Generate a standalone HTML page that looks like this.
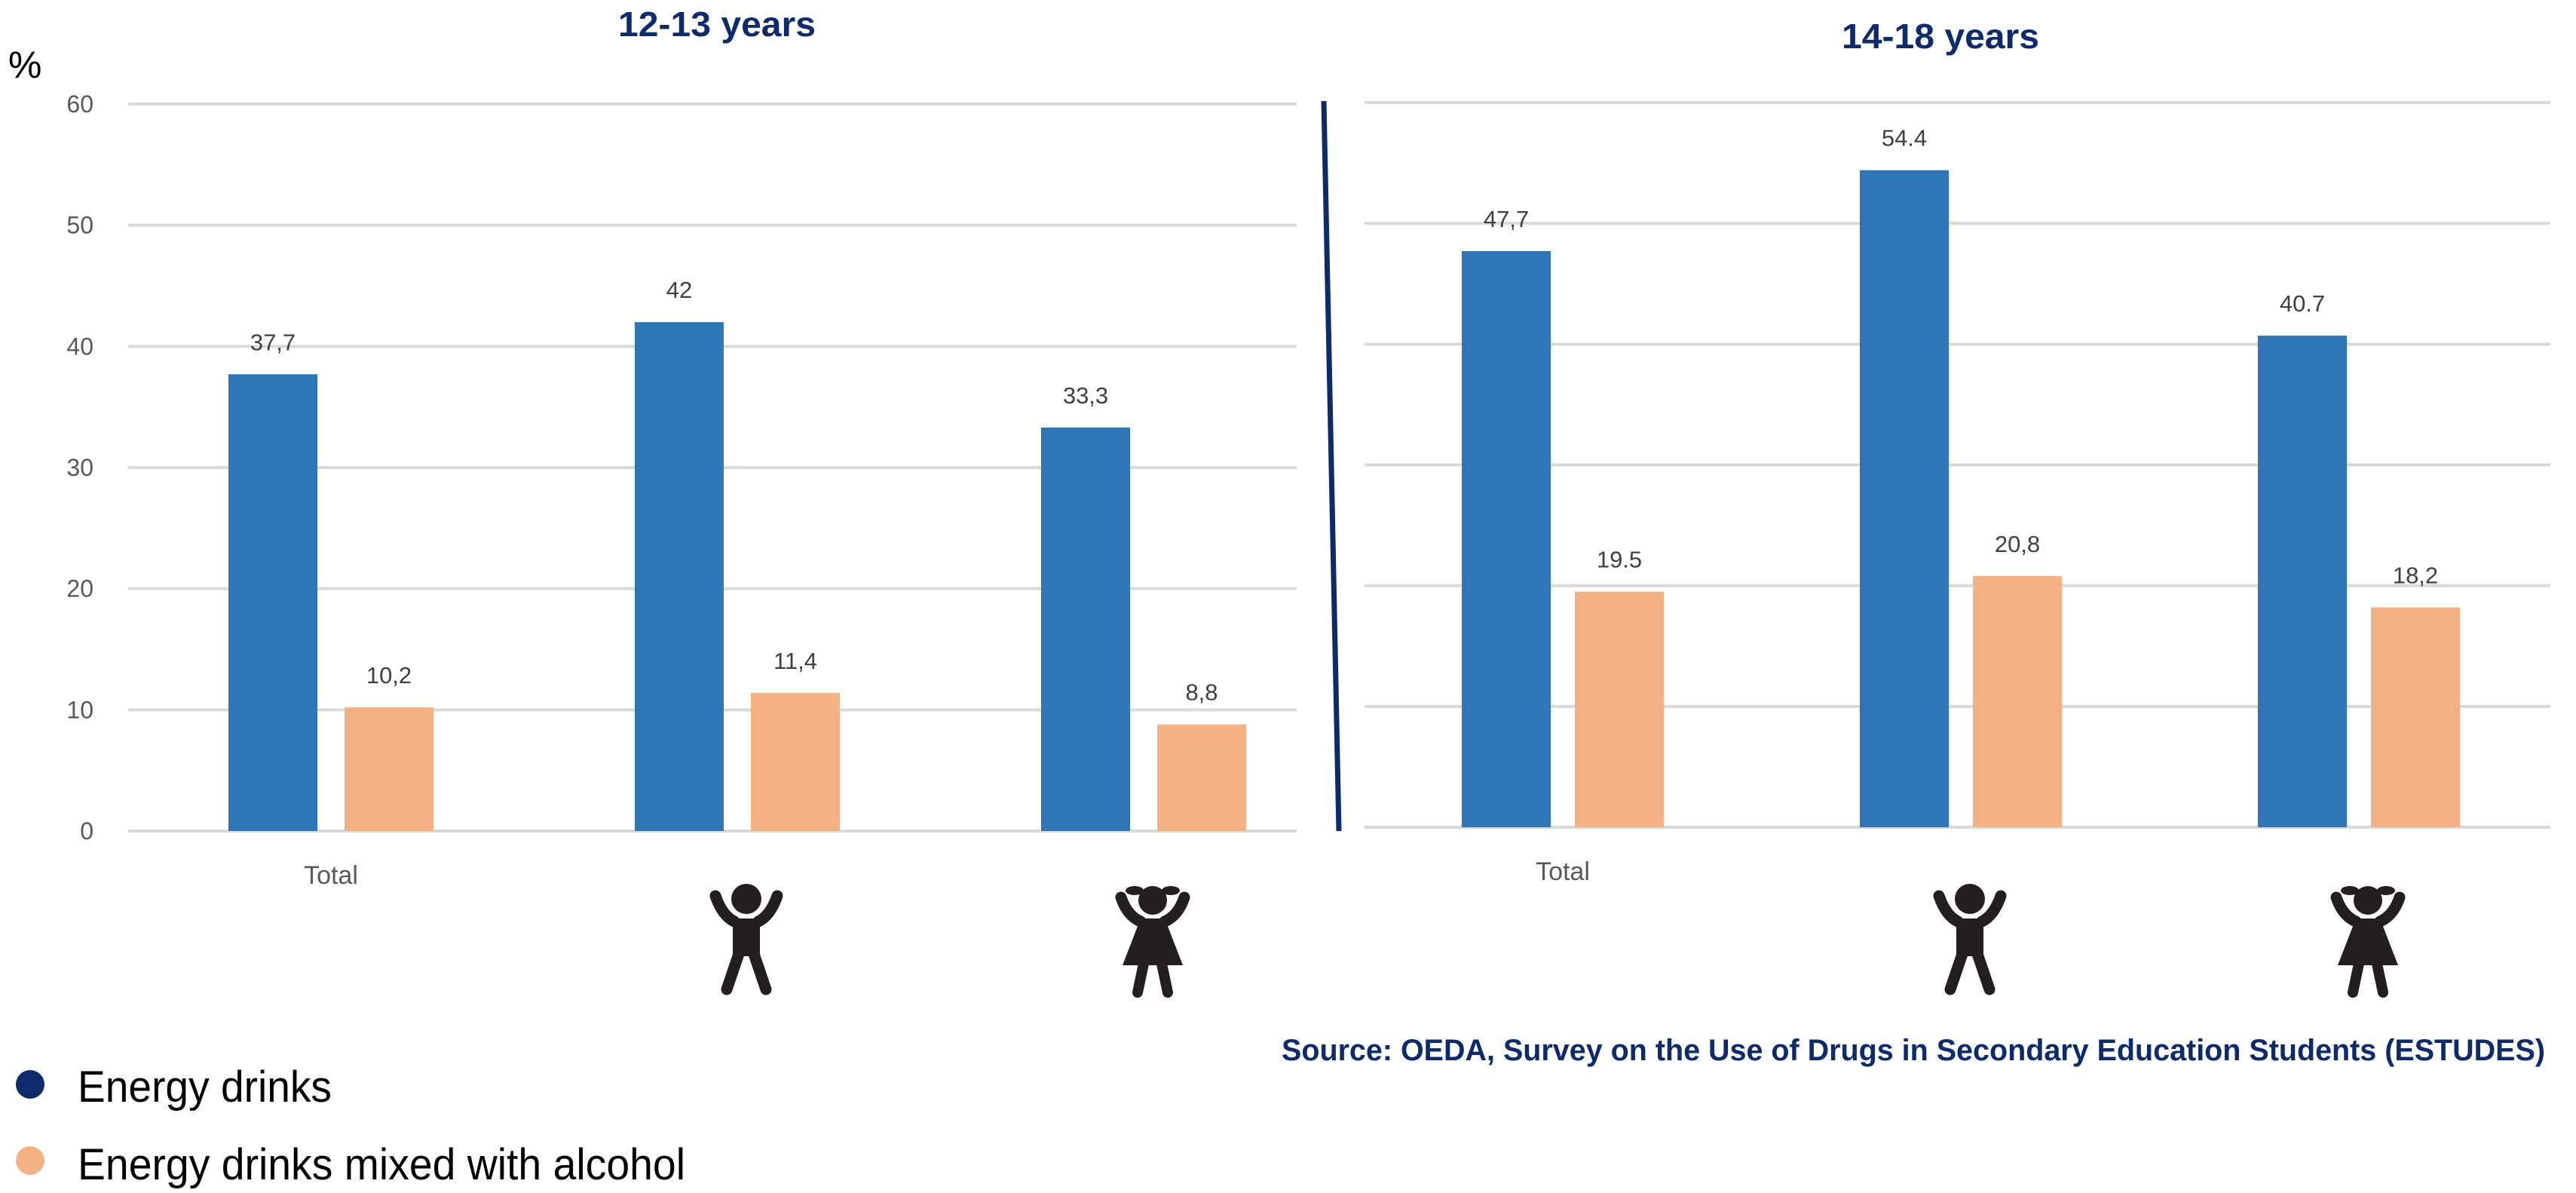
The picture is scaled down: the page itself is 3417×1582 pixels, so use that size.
<!DOCTYPE html>
<html><head><meta charset="utf-8"><style>
html,body{margin:0;padding:0;background:#fff;}
svg{display:block;font-family:"Liberation Sans",sans-serif;}
</style></head><body>
<svg id="chart" width="3417" height="1582" viewBox="0 0 3417 1582" xmlns="http://www.w3.org/2000/svg">
<defs>
<g id="boy">
  <circle cx="50" cy="22" r="20" fill="#231f20"/>
  <path d="M9 18 Q18 44 34 52 M91 18 Q82 44 66 52" stroke="#231f20" stroke-width="15" stroke-linecap="round" fill="none"/>
  <rect x="32" y="48" width="36" height="50" rx="4" fill="#231f20"/>
  <path d="M41 92 L24 142 M59 92 L76 142" stroke="#231f20" stroke-width="15" stroke-linecap="round" fill="none"/>
</g>
<g id="girl">
  <circle cx="50" cy="24" r="19" fill="#231f20"/>
  <ellipse cx="26" cy="11" rx="12" ry="6" fill="#231f20"/>
  <ellipse cx="74" cy="11" rx="12" ry="6" fill="#231f20"/>
  <path d="M8 20 Q16 44 34 52 M92 20 Q84 44 66 52" stroke="#231f20" stroke-width="15" stroke-linecap="round" fill="none"/>
  <path d="M34 48 L66 48 L90 110 L10 110 Z" fill="#231f20"/>
  <path d="M38 108 L30 146 M62 108 L70 146" stroke="#231f20" stroke-width="14" stroke-linecap="round" fill="none"/>
</g>
</defs>
<text x="11" y="103" font-size="50" fill="#000">%</text>
<text x="951" y="48" font-size="46" font-weight="bold" fill="#0d2a6b" text-anchor="middle" textLength="262" lengthAdjust="spacingAndGlyphs">12-13 years</text>
<text x="2574" y="64" font-size="46" font-weight="bold" fill="#0d2a6b" text-anchor="middle" textLength="262" lengthAdjust="spacingAndGlyphs">14-18 years</text>
<line x1="1756" y1="134" x2="1776" y2="1102" stroke="#0d2a6b" stroke-width="7"/>
<g id="plot"></g>
<text x="1700" y="1406" font-size="40" font-weight="bold" fill="#0d2a6b" textLength="1676" lengthAdjust="spacingAndGlyphs">Source: OEDA, Survey on the Use of Drugs in Secondary Education Students (ESTUDES)</text>
<circle cx="40" cy="1438" r="19" fill="#0d2a6b"/>
<text x="103" y="1461" font-size="58" fill="#000" textLength="337" lengthAdjust="spacingAndGlyphs">Energy drinks</text>
<circle cx="40" cy="1539" r="19" fill="#f4b183"/>
<text x="103" y="1564" font-size="58" fill="#000" textLength="806" lengthAdjust="spacingAndGlyphs">Energy drinks mixed with alcohol</text>
</svg>
<script>
const categories = ["Total", "boy", "girl"];
const energy1213 = [37.7, 42, 33.3];
const alcohol1213 = [10.2, 11.4, 8.8];
const energy1418 = [47.7, 54.4, 40.7];
const alcohol1418 = [19.5, 20.8, 18.2];
const energyLabels1213 = ["37,7", "42", "33,3"];
const alcoholLabels1213 = ["10,2", "11,4", "8,8"];
const energyLabels1418 = ["47,7", "54.4", "40.7"];
const alcoholLabels1418 = ["19.5", "20,8", "18,2"];
const yTicks = [0, 10, 20, 30, 40, 50, 60];

const NS = "http://www.w3.org/2000/svg";
const plot = document.getElementById("plot");
function mk(tag, attrs, parent) {
  const e = document.createElementNS(NS, tag);
  for (const k in attrs) e.setAttribute(k, attrs[k]);
  (parent || plot).appendChild(e);
  return e;
}
const panels = [
  {id:"12-13", y0:1102, y60:138, gx1:170, gx2:1720, c0:439, step:539, off:77, bw:118, ticks:true, energy:energy1213, alcohol:alcohol1213, el:energyLabels1213, al:alcoholLabels1213, totalY:1172},
  {id:"14-18", y0:1097, y60:136, gx1:1810, gx2:3383, c0:2073, step:528, off:75, bw:118, ticks:false, energy:energy1418, alcohol:alcohol1418, el:energyLabels1418, al:alcoholLabels1418, totalY:1167}
];
panels.forEach(p => {
  const y = v => p.y0 - (p.y0 - p.y60) * v / 60;
  const x = i => p.c0 + p.step * i;
  yTicks.forEach(t => {
    const g = mk("line", {x1:p.gx1, x2:p.gx2, y1:y(t), y2:y(t), stroke:"#d9d9d9", "stroke-width":4});
    
    
    if (p.ticks) {
      const tl = mk("text", {x:124, y:y(t)+11, "font-size":32, fill:"#595959", "text-anchor":"end"});
      tl.textContent = t;
      
      
    }
  });
  categories.forEach((c, i) => {
    const series = [[p.energy[i], p.el[i], "#2e75b6", -p.off, "energy"], [p.alcohol[i], p.al[i], "#f4b183", p.off, "alcohol"]];
    series.forEach(s => {
      const cx = x(i) + s[3];
      const b = mk("rect", {x:cx - p.bw/2, y:y(s[0]), width:p.bw, height:p.y0 - y(s[0]), fill:s[2]});
      
      
      const l = mk("text", {x:cx, y:y(s[0]) - 32, "font-size":31, fill:"#404040", "text-anchor":"middle"});
      l.textContent = s[1];
      
      
    });
    if (c === "Total") {
      const t = mk("text", {x:x(i), y:p.totalY, "font-size":34, fill:"#595959", "text-anchor":"middle"});
      t.textContent = "Total";
      
      
    } else {
      const u = mk("use", {href:"#" + c, transform:"translate(" + (x(i) - 38) + ",1170)"});
      
      
    }
  });
});
</script>
</body></html>
